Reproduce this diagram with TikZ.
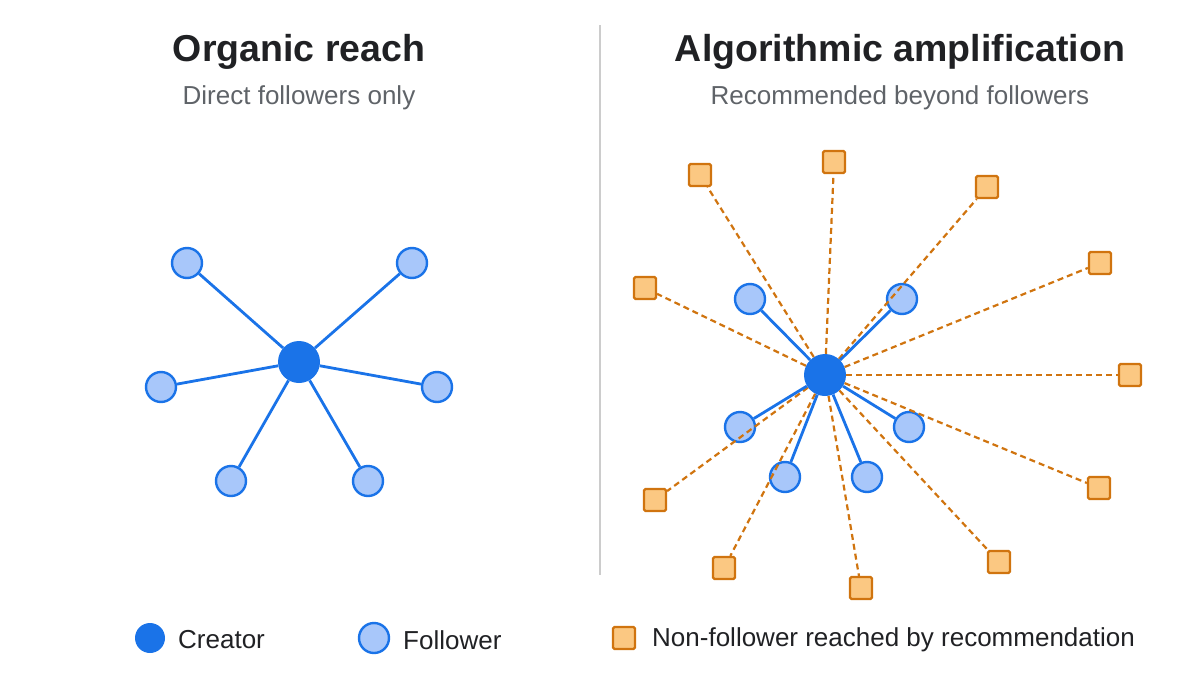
\documentclass[tikz,border=0pt]{standalone}
\usepackage{fontspec}
\setmainfont{Liberation Sans}
\definecolor{CreatorClr}{HTML}{1A73E8}
\definecolor{FollowerClr}{HTML}{A8C7FA}
\definecolor{RecoFill}{HTML}{FBC882}
\definecolor{RecoClr}{HTML}{D0740F}
\definecolor{TextClr}{HTML}{202124}
\definecolor{SubClr}{HTML}{5F6368}
\begin{document}
\begin{tikzpicture}[x=1pt,y=-1pt,
  creator/.style={circle,fill=CreatorClr,minimum size=42pt,inner sep=0pt},
  follower/.style={circle,fill=FollowerClr,draw=CreatorClr,line width=2.4pt,minimum size=30pt,inner sep=0pt},
  reco/.style={rectangle,fill=RecoFill,draw=RecoClr,line width=2.2pt,minimum size=22pt,inner sep=0pt,rounded corners=1.5pt},
  follow/.style={CreatorClr,line width=2.8pt},
  recommend/.style={RecoClr,line width=2.2pt,dash pattern=on 6pt off 4pt},
  title/.style={font=\fontsize{37.5}{44}\selectfont\bfseries,text=TextClr},
  subtitle/.style={font=\fontsize{26}{31}\selectfont,text=SubClr},
  legend/.style={font=\fontsize{26}{31}\selectfont,text=TextClr,anchor=west,inner sep=0pt}]
\useasboundingbox (0,0) rectangle (1200,675);

% divider
\draw[black!20,line width=2.2pt] (600,25) -- (600,575);

% titles
\node[title] (t1) at (299,52) {Organic reach};
\node[subtitle] (s1) at (299,98) {Direct followers only};
\node[title] (t2) at (900,52) {Algorithmic amplification};
\node[subtitle] (s2) at (900,98) {Recommended beyond followers};

% organic reach
\foreach \i/\x/\y in {1/187/263,2/412/263,3/161/387,4/437/387,5/231/481,6/368/481}
  \node[follower] (fa\i) at (\x,\y) {};
\node[creator] (ca) at (299,362) {};
\foreach \i in {1,...,6}
  \draw[follow] (ca) -- (fa\i);

% algorithmic amplification
\foreach \i/\x/\y in {1/700/175,2/834/162,3/987/187,4/1100/263,5/645/288,6/1130/375,
                      7/1099/488,8/655/500,9/999/562,10/724/568,11/861/588}
  \node[reco] (r\i) at (\x,\y) {};
\foreach \i/\x/\y in {1/750/299,2/902/299,3/740/427,4/909/427,5/785/477,6/867/477}
  \node[follower] (fb\i) at (\x,\y) {};
\node[creator] (cb) at (825,375) {};
\foreach \i in {1,...,11}
  \draw[recommend] (cb) -- (r\i);
\foreach \i in {1,...,6}
  \draw[follow] (cb) -- (fb\i);

% legend
\node[creator,minimum size=30pt] (lc) at (150,638) {};
\node[legend] (lct) at (178,640) {Creator};
\node[follower] (lf) at (374,638) {};
\node[legend] (lft) at (403,640) {Follower};
\node[reco] (lr) at (624,638) {};
\node[legend] (lrt) at (652,640) {Non-follower reached by recommendation};
\end{tikzpicture}
\end{document}
